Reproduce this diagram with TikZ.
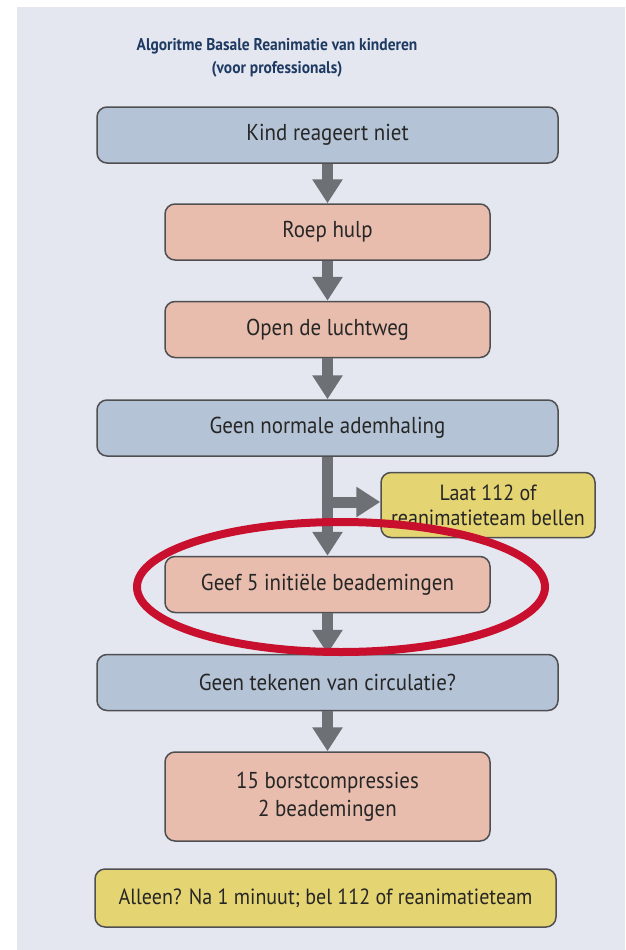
\documentclass[tikz,border=0pt]{standalone}
\usepackage{fontspec}
\setmainfont{PT Sans}[FakeStretch=0.91]
\usetikzlibrary{arrows.meta,calc}
\definecolor{panelbg}{HTML}{E4E7EF}
\definecolor{bluebox}{HTML}{B5C3D6}
\definecolor{salmon}{HTML}{E8BDAE}
\definecolor{yellowbox}{HTML}{E5D472}
\definecolor{boxline}{HTML}{4F4F52}
\definecolor{arrowgrey}{HTML}{6D7074}
\definecolor{titleblue}{HTML}{1E3A62}
\definecolor{ringred}{HTML}{C8102E}
\definecolor{txt}{HTML}{262626}
\tikzset{
  box/.style={draw=boxline, line width=1.5pt, rounded corners=10pt, inner sep=0pt,
    align=center, text=txt, font=\fontsize{23}{28}\selectfont},
  bluestep/.style={box, fill=bluebox, minimum width=461pt, minimum height=56pt},
  salmonstep/.style={box, fill=salmon, minimum width=325pt, minimum height=56pt},
  yellowstep/.style={box, fill=yellowbox, font=\fontsize{22}{25}\selectfont},
  flowarrow/.style={draw=arrowgrey, line width=11pt,
    -{Triangle[width=29pt,length=24pt]}, arrowgrey, shorten >=0pt},
}
\begin{document}
\begin{tikzpicture}[x=1pt,y=-1pt]
\useasboundingbox (0,0) rectangle (625,950);
\fill[white] (0,0) rectangle (625,950);
\fill[panelbg] (17,7) rectangle (625,950);
\node[text=titleblue, font=\fontsize{17}{23}\selectfont\bfseries, align=center] (title) at (277,58)
  {Algoritme Basale Reanimatie van kinderen\\(voor professionals)};
\node[bluestep] (n1) at (327.5,135) {Kind reageert niet};
\node[salmonstep] (n2) at (327.5,232) {Roep hulp};
\node[salmonstep] (n3) at (327.5,329.5) {Open de luchtweg};
\node[bluestep] (n4) at (327.5,428) {Geen normale ademhaling};
\node[yellowstep, minimum width=214pt, minimum height=65pt] (side) at (488,505)
  {Laat 112 of\\reanimatieteam bellen};
\node[salmonstep] (n5) at (327.5,584.5) {Geef 5 initiële beademingen};
\node[bluestep] (n6) at (327.5,682.5) {Geen tekenen van circulatie?};
\node[salmonstep, minimum height=89pt] (n7) at (327.5,796.5) {15 borstcompressies\\2 beademingen};
\node[yellowstep, minimum width=461pt, minimum height=58pt] (n8) at (325.5,898)
  {Alleen? Na 1 minuut; bel 112 of reanimatieteam};
\draw[flowarrow] (n1) -- (n2);
\draw[flowarrow] (n2) -- (n3);
\draw[flowarrow] (n3) -- (n4);
\draw[flowarrow] (n4) -- (n5);
\draw[flowarrow] (n4.south |- 0,502) -- (side.west |- 0,502);
\draw[flowarrow] (n5) -- (n6);
\draw[flowarrow] (n6) -- (n7);
\draw[ringred, line width=8pt] (341,587) ellipse [x radius=204pt, y radius=65pt];
\end{tikzpicture}
\end{document}
